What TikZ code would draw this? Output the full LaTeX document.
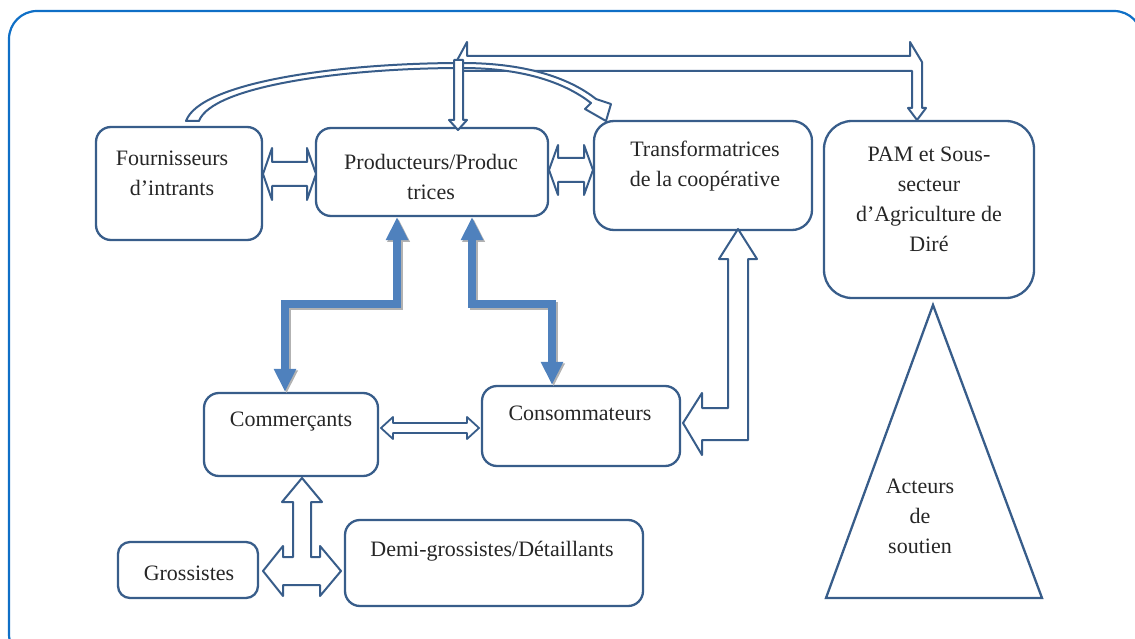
\documentclass[tikz,border=0pt]{standalone}
\usepackage{fontspec}
\setmainfont{Liberation Serif}
\usetikzlibrary{arrows.meta}
\definecolor{frameblue}{HTML}{0F6FC6}
\definecolor{boxblue}{HTML}{385D8A}
\definecolor{fillblue}{HTML}{4F81BD}
\begin{document}
\begin{tikzpicture}[x=1pt,y=-1pt,
  box/.style={draw=boxblue, line width=2.3pt, rounded corners=#1, inner sep=0pt},
  box/.default=15pt,
  lbl/.style={font=\fontsize{22}{30}\selectfont, align=center, inner sep=0pt, text=black!85},
  outl/.style={draw=boxblue, line width=2pt, fill=white, line join=round},
  bigarrow/.style={draw=fillblue, line width=8pt, line join=miter,
    {Triangle[width=21pt,length=23pt]}-{Triangle[width=21pt,length=23pt]}},
  bigshadow/.style={bigarrow, draw=black!30, transform canvas={shift={(1.6pt,-1.6pt)}}}
]
\useasboundingbox (0,0) rectangle (1135,639);
% frame
\draw[frameblue, line width=2.2pt, rounded corners=28pt] (9,11) rectangle (1142,662);

% boxes
\node[box, minimum width=166pt, minimum height=113pt] (fo) at (179,183.5) {};
\node[box, minimum width=232pt, minimum height=88pt] (pr) at (432,172) {};
\node[box=20pt, minimum width=218pt, minimum height=109pt] (tr) at (703,175.5) {};
\node[box=28pt, minimum width=210pt, minimum height=177pt] (pam) at (929,209.5) {};
\node[box, minimum width=174pt, minimum height=83pt] (co) at (291,434.5) {};
\node[box, minimum width=198pt, minimum height=80pt] (cs) at (581,426) {};
\node[box=12pt, minimum width=140pt, minimum height=56pt] (gr) at (188,570) {};
\node[box, minimum width=298pt, minimum height=86pt] (dg) at (494,563) {};
\coordinate (tA) at (933,305);
\coordinate (tB) at (1042,598);
\coordinate (tC) at (826,598);
\draw[draw=boxblue, line width=2.3pt, line join=miter] (tA) -- (tB) -- (tC) -- cycle;

% labels
\node[lbl] (fot) at (172,173) {Fournisseurs\\d’intrants};
\node[lbl] (prt) at (431,177) {Producteurs/Produc\\trices};
\node[lbl] (trt) at (705,166) {Transformatrices\\de la coopérative};
\node[lbl] (pamt) at (929,199) {PAM et Sous-\\secteur\\d’Agriculture de\\Diré};
\node[lbl] (cot) at (291,422) {Commerçants};
\node[lbl] (cst) at (580,413) {Consommateurs};
\node[lbl] (grt) at (189,573) {Grossistes};
\node[lbl] (dgt) at (492,551) {Demi-grossistes/Détaillants};
\node[lbl] (act) at (920,516) {Acteurs\\de\\soutien};

% horizontal block arrows
\draw[outl] (263,174) -- (272,148) -- (272,162) -- (307,162) -- (307,148) -- (316,174)
  -- (307,200) -- (307,186) -- (272,186) -- (272,200) -- cycle;
\draw[outl] (549,170) -- (558,145) -- (558,158) -- (584,158) -- (584,145) -- (593,170)
  -- (584,195) -- (584,182) -- (558,182) -- (558,195) -- cycle;
\draw[outl, line width=1.8pt] (381,428) -- (393,417) -- (393,423) -- (467,423) -- (467,417) -- (479,428)
  -- (467,439) -- (467,433) -- (393,433) -- (393,439) -- cycle;

% L arrow consommateurs - transformatrices
\draw[outl] (738,229) -- (757,259) -- (748,259) -- (748,440) -- (702,440) -- (702,455)
  -- (683,423) -- (702,393) -- (702,408) -- (728,408) -- (728,259) -- (719,259) -- cycle;

% T arrow commercants - grossistes - demi-grossistes
\draw[outl] (302,478) -- (322,502) -- (311,502) -- (311,557) -- (320,557) -- (320,546)
  -- (341,571) -- (320,596) -- (320,585) -- (283,585) -- (283,596) -- (263,571)
  -- (283,546) -- (283,557) -- (293,557) -- (293,502) -- (282,502) -- cycle;

% filled arrows
\draw[bigshadow] (pr.south -| 397,0) |- (285,304) -- (co.north -| 285,0);
\draw[bigshadow] (pr.south -| 472,0) |- (552,304) -- (cs.north -| 552,0);
\draw[bigarrow] (pr.south -| 397,0) |- (285,304) -- (co.north -| 285,0);
\draw[bigarrow] (pr.south -| 472,0) |- (552,304) -- (cs.north -| 552,0);

% top bracket arrow producteurs - PAM (bar and right branch)
\draw[outl] (458,71) -- (912,71) -- (912,108)
  -- (908,108) -- (917,120) -- (926,108) -- (922,108) -- (922,62) -- (910,42)
  -- (910,56) -- (467,56) -- (467,42) -- (454,66) -- cycle;

% curved arrow fournisseurs -> transformatrices
\draw[outl] (186,121) .. controls (200,82) and (340,63) .. (462,63)
  .. controls (530,63) and (572,80) .. (596,99) -- (611,104) -- (606,121) -- (585,109) -- (591,103)
  .. controls (568,85) and (528,68) .. (462,68)
  .. controls (345,68) and (212,86) .. (199,121) -- cycle;

% left branch of bracket arrow down to producteurs
\draw[outl] (454,60) -- (463,60) -- (463,120) -- (467,120) -- (458,130) -- (449,120)
  -- (454,120) -- cycle;
\end{tikzpicture}
\end{document}
